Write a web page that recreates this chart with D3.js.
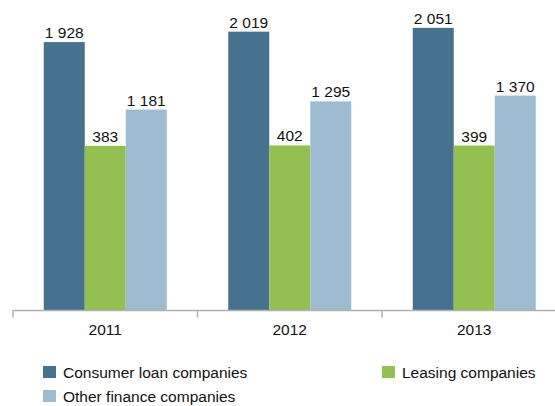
<!DOCTYPE html>
<html>
<head>
<meta charset="utf-8">
<script src="https://cdn.jsdelivr.net/npm/d3@7"></script>
<style>
  body { margin: 0; background: #fff; }
  svg { display: block; font-family: 'Liberation Sans', Arial, sans-serif; }
  .label { font-size: 15.5px; fill: #111; }
</style>
</head>
<body>
<div id="chart"></div>
<script>
const years = ['2011', '2012', '2013'];
const series = ['Consumer loan companies', 'Leasing companies', 'Other finance companies'];
const consumerLoan = [1928, 2019, 2051];
const leasing = [383, 402, 399];
const otherFinance = [1181, 1295, 1370];
const valueLabels = [
  ['1 928', '2 019', '2 051'],
  ['383', '402', '399'],
  ['1 181', '1 295', '1 370'],
];

const colors = ['#47728f', '#93c051', '#9ebcd1'];
const values = [consumerLoan, leasing, otherFinance];

const canvasWidth = 555;
const canvasHeight = 406;
const axisY = 310.5;

const svg = d3.select('#chart')
  .append('svg')
  .attr('width', canvasWidth)
  .attr('height', canvasHeight);

// group scale and bar scale inside a group
const x0 = d3.scaleBand()
  .domain(years)
  .range([13, 566.5]);
const x1 = d3.scaleBand()
  .domain(series)
  .range([30.75, 153.75]);

// the original chart is not drawn to a linear scale, a square scale fits it best
const scaleY = d3.scalePow()
  .exponent(2)
  .domain([0, 2100])
  .range([axisY - 160.35, axisY - 160.35 - 128.2]);

const rows = [];
series.forEach((s, i) => {
  years.forEach((y, j) => {
    rows.push({ series: s, year: y, value: values[i][j], label: valueLabels[i][j], color: colors[i] });
  });
});

// bars
svg.append('g')
  .selectAll('rect')
  .data(rows)
  .enter()
  .append('rect')
    .attr('x', d => x0(d.year) + x1(d.series))
    .attr('y', d => scaleY(d.value))
    .attr('width', x1.bandwidth())
    .attr('height', d => axisY - scaleY(d.value))
    .attr('fill', d => d.color);

// value labels
svg.append('g')
  .selectAll('text')
  .data(rows)
  .enter()
  .append('text')
    .attr('class', 'label')
    .attr('x', d => x0(d.year) + x1(d.series) + x1.bandwidth() / 2)
    .attr('y', d => scaleY(d.value) - 4)
    .attr('text-anchor', 'middle')
    .text(d => d.label);

// x axis
const axis = svg.append('g');
axis.append('line')
  .attr('x1', x0.range()[0])
  .attr('x2', x0.range()[1])
  .attr('y1', axisY)
  .attr('y2', axisY)
  .attr('stroke', '#b0b0b0')
  .attr('stroke-width', 1.5);
axis.selectAll('.tick')
  .data(years)
  .enter()
  .append('line')
    .attr('x1', d => x0(d))
    .attr('x2', d => x0(d))
    .attr('y1', axisY)
    .attr('y2', axisY + 7)
    .attr('stroke', '#b0b0b0')
    .attr('stroke-width', 1.5);
axis.selectAll('text')
  .data(years)
  .enter()
  .append('text')
    .attr('class', 'label')
    .attr('x', d => x0(d) + x0.bandwidth() / 2)
    .attr('y', 335)
    .attr('text-anchor', 'middle')
    .text(d => d);

// legend
const legendPos = [[43, 366], [382, 366], [43, 390]];
const legend = svg.append('g')
  .selectAll('g')
  .data(series)
  .enter()
  .append('g')
    .attr('transform', (d, i) => `translate(${legendPos[i][0]}, ${legendPos[i][1]})`);
legend.append('rect')
  .attr('width', 13)
  .attr('height', 12)
  .attr('fill', (d, i) => colors[i]);
legend.append('text')
  .attr('class', 'label')
  .attr('x', 20)
  .attr('y', 12)
  .text(d => d);
</script>
</body>
</html>
